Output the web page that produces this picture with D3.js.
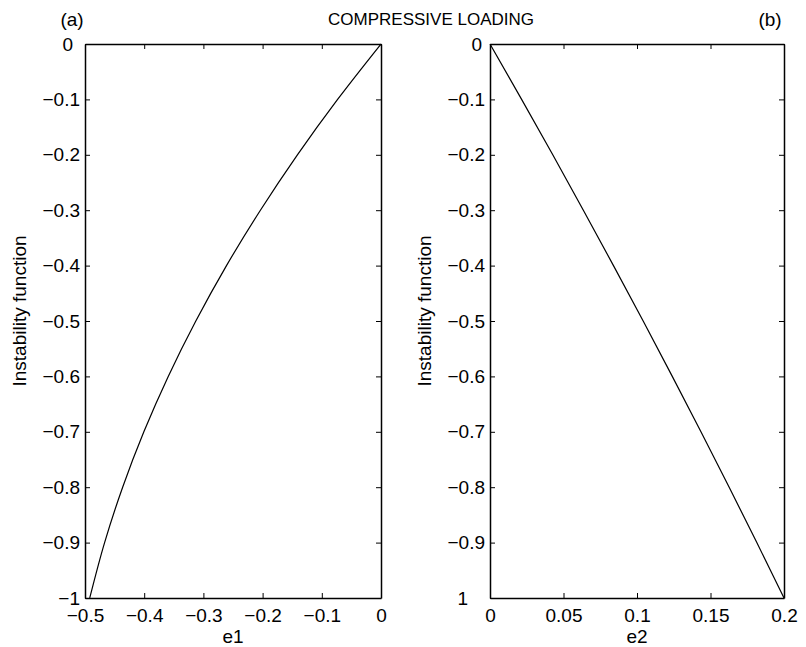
<!DOCTYPE html>
<html lang="en">
<head>
  <meta charset="UTF-8">
  <title>Compressive loading</title>
  <script src="https://d3js.org/d3.v7.min.js"></script>
  <style>
    body { margin: 0; background: #fff; }
    svg text { font-family: "Liberation Sans", Arial, sans-serif; fill: #000; }
    .axis path, .axis line { stroke: #000; }
    .curve { fill: none; stroke: #000; stroke-width: 1.2px; }
  </style>
</head>
<body>
  <div id="chart"></div>
  <script>
    // instability function levels (y) shared by both panels
    const fValues = [0, -0.1, -0.2, -0.3, -0.4, -0.5, -0.6, -0.7, -0.8, -0.9, -1];
    // panel (a): e1
    const e1Values = [0, -0.0733, -0.1412, -0.2037, -0.261, -0.3128, -0.3594, -0.4006, -0.4364, -0.4669, -0.492];
    // panel (b): e2
    const e2Values = [0, 0.0215, 0.0427, 0.0635, 0.084, 0.1042, 0.124, 0.1435, 0.1627, 0.1815, 0.2];

    const e1Ticks = [-0.5, -0.4, -0.3, -0.2, -0.1, 0];
    const e2Ticks = [0, 0.05, 0.1, 0.15, 0.2];
    const yTicks = [0, -0.1, -0.2, -0.3, -0.4, -0.5, -0.6, -0.7, -0.8, -0.9, -1];
    const yLabelsA = ["0", "\u22120.1", "\u22120.2", "\u22120.3", "\u22120.4", "\u22120.5", "\u22120.6", "\u22120.7", "\u22120.8", "\u22120.9", "\u22121"];
    const yLabelsB = ["0", "\u22120.1", "\u22120.2", "\u22120.3", "\u22120.4", "\u22120.5", "\u22120.6", "\u22120.7", "\u22120.8", "\u22120.9", "1"];

    const W = 806, H = 647;
    const plotTop = 44, plotBottom = 598;
    const fontSize = 19;

    const svg = d3.select("#chart").append("svg")
      .attr("width", W)
      .attr("height", H);

    const fmt = d => d === 0 ? "0" : String(d).replace("-", "\u2212");

    function drawPanel(opts) {
      const x = d3.scaleLinear().domain(opts.xDomain).range([opts.left, opts.right]);
      const y = d3.scaleLinear().domain([-1, 0]).range([plotBottom, plotTop]);
      const g = svg.append("g");

      // bottom axis with labels, ticks pointing inward
      g.append("g").attr("class", "axis")
        .attr("transform", `translate(0,${plotBottom})`)
        .call(d3.axisBottom(x).tickValues(opts.xTicks).tickFormat(fmt)
          .tickSizeInner(-5).tickSizeOuter(0).tickPadding(11));
      // top axis, no labels
      g.append("g").attr("class", "axis")
        .attr("transform", `translate(0,${plotTop})`)
        .call(d3.axisTop(x).tickValues(opts.xTicks).tickFormat("")
          .tickSizeInner(-5).tickSizeOuter(0));
      // left axis with labels
      const yAxis = g.append("g").attr("class", "axis")
        .attr("transform", `translate(${opts.left},0)`)
        .call(d3.axisLeft(y).tickValues(yTicks).tickFormat((d, i) => opts.yLabels[i])
          .tickSizeInner(-5).tickSizeOuter(0).tickPadding(5));
      // right axis, no labels
      g.append("g").attr("class", "axis")
        .attr("transform", `translate(${opts.right},0)`)
        .call(d3.axisRight(y).tickValues(yTicks).tickFormat("")
          .tickSizeInner(-5).tickSizeOuter(0));

      g.selectAll(".axis .domain").attr("stroke-width", 1.5);
      g.selectAll(".axis text").attr("font-size", fontSize).attr("font-family", null);
      // the lone "0" / "1" labels sit a little left of the others
      yAxis.selectAll("text").filter(function () { return this.textContent === "0"; }).attr("dx", opts.zeroShift);
      yAxis.selectAll("text").filter(function () { return this.textContent === "1"; }).attr("dx", -17);

      const line = d3.line()
        .x(d => x(d[0]))
        .y(d => y(d[1]))
        .curve(d3.curveMonotoneY);
      g.append("path")
        .attr("class", "curve")
        .attr("d", line(d3.zip(opts.xValues, fValues)));

      // axis titles
      g.append("text")
        .attr("x", (opts.left + opts.right) / 2)
        .attr("y", 643)
        .attr("text-anchor", "middle")
        .attr("font-size", fontSize)
        .text(opts.xTitle);
      g.append("text")
        .attr("transform", `translate(${opts.left - 59},311) rotate(-90)`)
        .attr("text-anchor", "middle")
        .attr("font-size", fontSize)
        .text("Instability function");
    }

    drawPanel({ left: 85, right: 381, xDomain: [-0.5, 0], xTicks: e1Ticks,
      xValues: e1Values, yLabels: yLabelsA, xTitle: "e1", zeroShift: -7 });
    drawPanel({ left: 490, right: 784, xDomain: [0, 0.2], xTicks: e2Ticks,
      xValues: e2Values, yLabels: yLabelsB, xTitle: "e2", zeroShift: -3 });

    svg.append("text").attr("x", 431).attr("y", 25).attr("text-anchor", "middle")
      .attr("font-size", 17).text("COMPRESSIVE LOADING");
    svg.append("text").attr("x", 72).attr("y", 26).attr("text-anchor", "middle")
      .attr("font-size", fontSize).text("(a)");
    svg.append("text").attr("x", 770).attr("y", 26).attr("text-anchor", "middle")
      .attr("font-size", fontSize).text("(b)");
  </script>
</body>
</html>
